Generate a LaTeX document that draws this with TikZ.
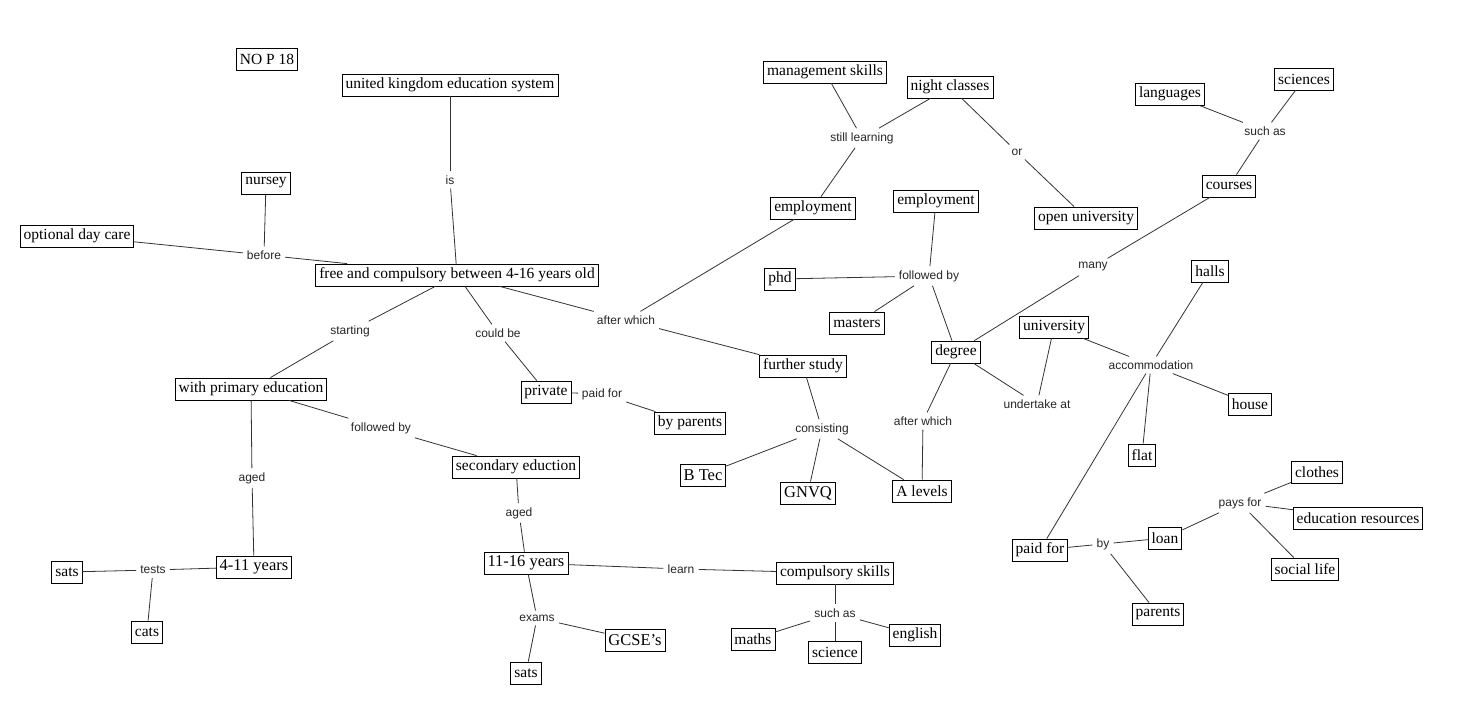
\documentclass[tikz,border=0pt]{standalone}
\usepackage{fontspec}
\setmainfont{Liberation Serif}
\setsansfont{Liberation Sans}
\begin{document}
\begin{tikzpicture}[x=1pt,y=-1pt,
  concept/.style={draw=black, line width=0.8pt, fill=white, inner xsep=3.5pt, inner ysep=3pt,
     minimum height=22pt, font=\fontsize{15.5}{17}\selectfont},
  big/.style={font=\fontsize{16.5}{18}\selectfont},
  phrase/.style={inner sep=4pt, text=black!85, font=\sffamily\fontsize{12}{14}\selectfont},
  link/.style={draw=black!80, line width=0.8pt}]
\useasboundingbox[fill=white] (0,0) rectangle (1465,723);

% concepts
\node[concept] (nop) at (267,59) {NO P 18};
\node[concept] (ukes) at (450,85) {united kingdom education system};
\node[concept] (nursey) at (266,183) {nursey};
\node[concept] (odc) at (77,236) {optional day care};
\node[concept] (free) at (457,275) {free and compulsory between 4-16 years old};
\node[concept] (wpe) at (251,389) {with primary education};
\node[concept] (private) at (546,392) {private};
\node[concept] (byparents) at (690,423) {by parents};
\node[concept] (secondary) at (516,467) {secondary eduction};
\node[concept,big] (y411) at (254,567) {4-11 years};
\node[concept] (sats1) at (67,572) {sats};
\node[concept] (cats) at (147,632) {cats};
\node[concept,big] (y1116) at (526,563) {11-16 years};
\node[concept,big] (gcses) at (635,640) {GCSE{\char"27}s};
\node[concept] (sats2) at (526,673) {sats};
\node[concept] (compskills) at (835,573) {compulsory skills};
\node[concept] (maths) at (753,639) {maths};
\node[concept] (science) at (835,652) {science};
\node[concept] (english) at (915,635) {english};
\node[concept] (mgmt) at (825,72) {management skills};
\node[concept] (night) at (950,87) {night classes};
\node[concept] (emp1) at (813,208) {employment};
\node[concept] (emp2) at (936,201) {employment};
\node[concept] (openuni) at (1086,218) {open university};
\node[concept] (phd) at (780,279) {phd};
\node[concept] (masters) at (857,323) {masters};
\node[concept] (further) at (803,366) {further study};
\node[concept] (degree) at (956,352) {degree};
\node[concept] (university) at (1054,327) {university};
\node[concept,big] (btec) at (703,475) {B Tec};
\node[concept,big] (gnvq) at (808,493) {GNVQ};
\node[concept] (alevels) at (922,491) {A levels};
\node[concept] (languages) at (1170,94) {languages};
\node[concept] (sciences) at (1304,79) {sciences};
\node[concept] (courses) at (1229,186) {courses};
\node[concept] (halls) at (1210,271) {halls};
\node[concept] (house) at (1250,404) {house};
\node[concept] (flat) at (1142,455) {flat};
\node[concept] (paidfor) at (1040,550) {paid for};
\node[concept] (loan) at (1165,538) {loan};
\node[concept] (parents) at (1158,614) {parents};
\node[concept] (clothes) at (1317,472) {clothes};
\node[concept] (edres) at (1358,518) {education resources};
\node[concept] (sociallife) at (1305,569) {social life};

% linking phrases
\node[phrase] (is) at (450,180) {is};
\node[phrase] (before) at (264,255) {before};
\node[phrase] (starting) at (350,331) {starting};
\node[phrase] (couldbe) at (498,333) {could be};
\node[phrase] (aw1) at (626,320) {after which};
\node[phrase] (pf1) at (602,394) {paid for};
\node[phrase] (fb1) at (381,428) {followed by};
\node[phrase] (aged1) at (252,478) {aged};
\node[phrase] (aged2) at (519,513) {aged};
\node[phrase] (tests) at (153,570) {tests};
\node[phrase] (exams) at (537,618) {exams};
\node[phrase] (learn) at (681,569) {learn};
\node[phrase] (sa1) at (835,613) {such as};
\node[phrase] (still) at (862,138) {still learning};
\node[phrase] (or) at (1017,152) {or};
\node[phrase] (fb2) at (929,276) {followed by};
\node[phrase] (consisting) at (822,429) {consisting};
\node[phrase] (aw2) at (923,421) {after which};
\node[phrase] (undertake) at (1037,404) {undertake at};
\node[phrase] (many) at (1093,267) {many};
\node[phrase] (sa2) at (1265,131) {such as};
\node[phrase] (accom) at (1151,365) {accommodation};
\node[phrase] (by) at (1103,544) {by};
\node[phrase] (paysfor) at (1240,503) {pays for};

% connectors
\draw[link] (ukes) -- (is);
\draw[link] (is) -- (free);
\draw[link] (nursey) -- (before);
\draw[link] (odc) -- (before);
\draw[link] (before) -- (free);
\draw[link] (free) -- (starting);
\draw[link] (starting) -- (wpe);
\draw[link] (free) -- (couldbe);
\draw[link] (couldbe) -- (private);
\draw[link] (free) -- (aw1);
\draw[link] (aw1) -- (emp1);
\draw[link] (aw1) -- (further);
\draw[link] (private) -- (pf1);
\draw[link] (pf1) -- (byparents);
\draw[link] (wpe) -- (fb1);
\draw[link] (fb1) -- (secondary);
\draw[link] (wpe) -- (aged1);
\draw[link] (aged1) -- (y411);
\draw[link] (y411) -- (tests);
\draw[link] (tests) -- (sats1);
\draw[link] (tests) -- (cats);
\draw[link] (secondary) -- (aged2);
\draw[link] (aged2) -- (y1116);
\draw[link] (y1116) -- (exams);
\draw[link] (exams) -- (gcses);
\draw[link] (exams) -- (sats2);
\draw[link] (y1116) -- (learn);
\draw[link] (learn) -- (compskills);
\draw[link] (compskills) -- (sa1);
\draw[link] (sa1) -- (maths);
\draw[link] (sa1) -- (science);
\draw[link] (sa1) -- (english);
\draw[link] (emp1) -- (still);
\draw[link] (still) -- (mgmt);
\draw[link] (still) -- (night);
\draw[link] (night) -- (or);
\draw[link] (or) -- (openuni);
\draw[link] (emp2) -- (fb2);
\draw[link] (fb2) -- (phd);
\draw[link] (fb2) -- (masters);
\draw[link] (fb2) -- (degree);
\draw[link] (further) -- (consisting);
\draw[link] (consisting) -- (btec);
\draw[link] (consisting) -- (gnvq);
\draw[link] (consisting) -- (alevels);
\draw[link] (alevels) -- (aw2);
\draw[link] (aw2) -- (degree);
\draw[link] (degree) -- (undertake);
\draw[link] (undertake) -- (university);
\draw[link] (degree) -- (many);
\draw[link] (many) -- (courses);
\draw[link] (courses) -- (sa2);
\draw[link] (sa2) -- (languages);
\draw[link] (sa2) -- (sciences);
\draw[link] (university) -- (accom);
\draw[link] (accom) -- (halls);
\draw[link] (accom) -- (house);
\draw[link] (accom) -- (flat);
\draw[link] (accom) -- (paidfor);
\draw[link] (paidfor) -- (by);
\draw[link] (by) -- (loan);
\draw[link] (by) -- (parents);
\draw[link] (loan) -- (paysfor);
\draw[link] (paysfor) -- (clothes);
\draw[link] (paysfor) -- (edres);
\draw[link] (paysfor) -- (sociallife);
\end{tikzpicture}
\end{document}
